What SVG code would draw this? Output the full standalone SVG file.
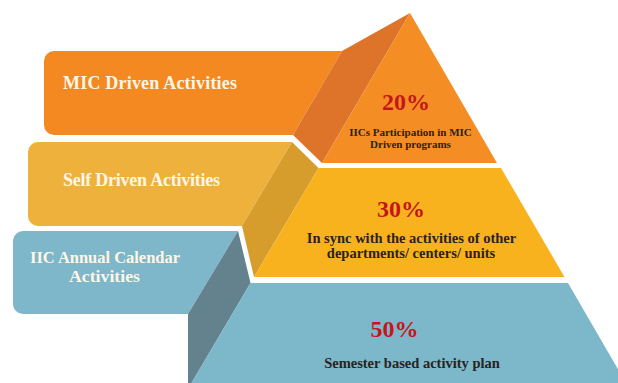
<svg xmlns="http://www.w3.org/2000/svg" width="618" height="383" viewBox="0 0 618 383">
<style>
.lbl{font-family:"Liberation Serif","Times New Roman",serif;font-weight:bold;font-size:18px;fill:#FFF6E6}
.pct{font-family:"Liberation Serif","Times New Roman",serif;font-weight:bold;font-size:24px;fill:#C4161C;text-anchor:middle}
.desc{font-family:"Liberation Serif","Times New Roman",serif;font-weight:bold;font-size:14.5px;fill:#2B2220;text-anchor:middle}
.sm{font-size:11px}
</style>
<rect width="618" height="383" fill="#FFFFFF"/>
<g id="tier-top">
<path d="M54,51 H342 L293,135 H54 A10,10 0 0 1 44,125 V61 A10,10 0 0 1 54,51 Z" fill="#F38920"/>
<path d="M342,51 L410,13 L322,163 L293,135 Z" fill="#DE742A"/>
<path d="M410,13 L497,163 L322,163 Z" fill="#F48E24"/>
<text class="lbl" x="63" y="89" textLength="174">MIC Driven Activities</text>
<text class="pct" x="406" y="110">20%</text>
<text class="desc sm" x="410.5" y="136">IICs Participation in MIC</text>
<text class="desc sm" x="410.5" y="148">Driven programs</text>
</g>
<g id="tier-middle">
<path d="M38,142 H292 L242,226 H38 A10,10 0 0 1 28,216 V152 A10,10 0 0 1 38,142 Z" fill="#EEB13C"/>
<path d="M292,142 L318.5,168 L254,277 L242,226 Z" fill="#D69C2C"/>
<path d="M318.5,168 L501,168 L564.5,277 L254,277 Z" fill="#F7B21E"/>
<text class="lbl" x="63" y="186" textLength="157">Self Driven Activities</text>
<text class="pct" x="401" y="217">30%</text>
<text class="desc" x="411.5" y="243">In sync with the activities of other</text>
<text class="desc" x="411" y="258">departments/ centers/ units</text>
</g>
<g id="tier-bottom">
<path d="M23,231 H238 L188,314 H23 A10,10 0 0 1 13,304 V241 A10,10 0 0 1 23,231 Z" fill="#7DB7C9"/>
<path d="M238,231 L250.5,283 L191.5,383 L188,383 L188,314 Z" fill="#64818E"/>
<path d="M250.5,283 L568,283 L626,383 L191.5,383 Z" fill="#7CB8CA"/>
<text class="lbl" x="30" y="263" textLength="150" lengthAdjust="spacingAndGlyphs" style="font-size:17px">IIC Annual Calendar</text>
<text class="lbl" x="69" y="282" textLength="71" lengthAdjust="spacingAndGlyphs" style="font-size:17px">Activities</text>
<text class="pct" x="394.5" y="337">50%</text>
<text class="desc" x="412" y="368">Semester based activity plan</text>
</g>
<g id="connectors"></g>
</svg>
